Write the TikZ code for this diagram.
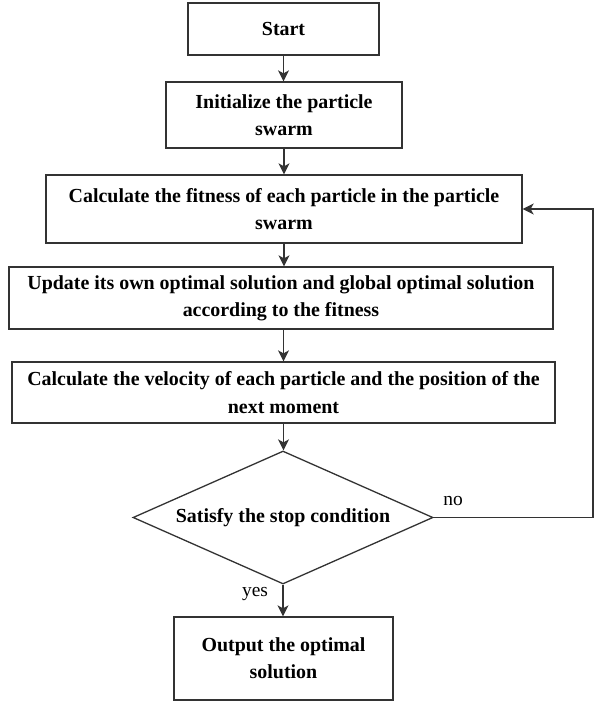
\documentclass[tikz,border=0pt]{standalone}
\usepackage{fontspec}
\setmainfont{Liberation Serif}
\usetikzlibrary{shapes.geometric,arrows.meta}

\definecolor{linegray}{HTML}{333333}

\tikzset{
  flowbox/.style={draw=linegray, line width=1.3bp, fill=white, align=center,
    text=black, font=\bfseries\fontsize{20}{27.5}\selectfont, inner sep=0pt},
  decision/.style={diamond, draw=linegray, line width=1.3bp, fill=white,
    aspect=2.25, inner sep=0pt, text=black,
    font=\bfseries\fontsize{20}{24}\selectfont},
  flowarrow/.style={draw=linegray, line width=1.3bp,
    -{Stealth[length=11bp,width=11bp,inset=3bp]}},
  branchlabel/.style={font=\fontsize{19.5}{22}\selectfont, inner sep=0pt, text=black}
}

\begin{document}
\begin{tikzpicture}[x=1bp,y=-1bp]
  % page frame
  \fill[white] (0,0) rectangle (595,702);
  \useasboundingbox (0,0) rectangle (595,702);

  % process steps
  \node[flowbox, minimum width=191bp, minimum height=52bp] (start) at (283.5,29) {Start};
  \node[flowbox, minimum width=236bp, minimum height=66bp] (init) at (284,115)
    {Initialize the particle\\swarm};
  \node[flowbox, minimum width=476bp, minimum height=68bp] (fitness) at (284,209)
    {Calculate the fitness of each particle in the particle\\swarm};
  \node[flowbox, minimum width=544bp, minimum height=62bp] (update) at (281,298)
    {Update its own optimal solution and global optimal solution\\according to the fitness};
  \node[flowbox, minimum width=543bp, minimum height=61bp] (velocity) at (283.5,392.5)
    {Calculate the velocity of each particle and the position of the\\next moment};
  \node[decision, minimum width=300bp, minimum height=133bp] (cond) at (283,517.5)
    {Satisfy the stop condition};
  \node[flowbox, minimum width=219bp, minimum height=83bp] (output) at (283.5,658.5)
    {Output the optimal\\solution};

  % main flow
  \draw[flowarrow] (start.south) -- (start.south |- init.north);
  \draw[flowarrow] (init.south) -- (init.south |- fitness.north);
  \draw[flowarrow] (fitness.south) -- (fitness.south |- update.north);
  \draw[flowarrow] (velocity.north |- update.south) -- (velocity.north);
  \draw[flowarrow] (velocity.south) -- (velocity.south |- cond.north);
  \draw[flowarrow] (cond.south) -- (cond.south |- output.north);

  % loop back when the stop condition is not met
  \coordinate (loopx) at (593,0);
  \draw[flowarrow] (cond.east) -- (cond.east -| loopx) |- (fitness.east);

  % branch labels
  \node[branchlabel] (nolabel) at (453,501) {no};
  \node[branchlabel] (yeslabel) at (255,594) {yes};
\end{tikzpicture}
\end{document}
